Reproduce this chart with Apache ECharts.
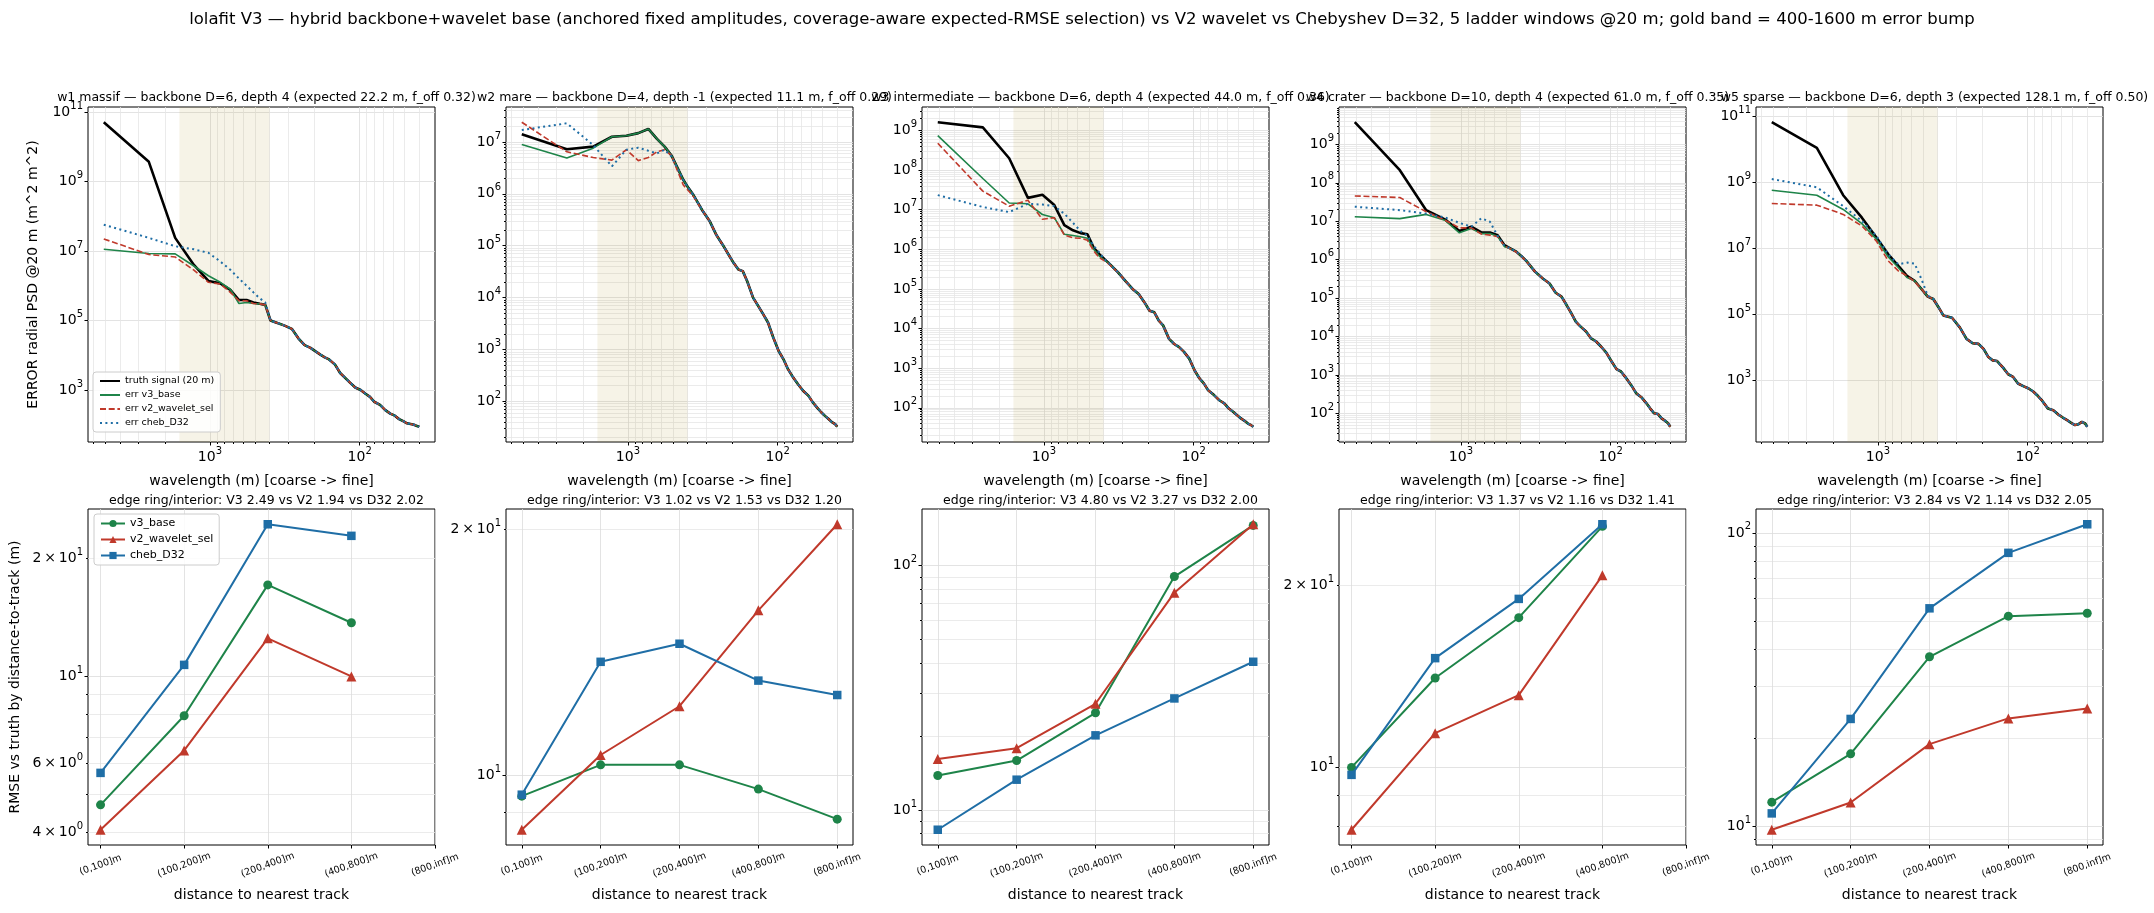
<!DOCTYPE html>
<html>
<head>
<meta charset="utf-8">
<title>lolafit V3 ladder windows</title>
<script src="https://cdn.jsdelivr.net/npm/echarts@6/dist/echarts.min.js"></script>
<style>
  html, body { margin: 0; padding: 0; background: #fff; }
  #main { width: 2154px; height: 913px; }
</style>
</head>
<body>
<div id="main"></div>
<script>
// radial PSD bins, wavelength in m (20 m grid)
const wavelengths = [5120, 2560, 1707, 1280, 1024, 853, 731, 640, 569, 512, 465, 427, 394, 366, 320, 284, 256,
  233, 213, 197, 183, 171, 160, 146, 135, 125, 116, 107, 98.5, 91.4, 85.3, 80, 73.1, 67.4, 62.4, 58.2, 54.5, 51.2, 48.3, 45.7, 43.4, 41.3, 40];
const goldBand = [400, 1600];

// log10 of radial PSD, coarse bins (first 17) per curve + shared fine tail (last 26)
const w1TruthLog = [10.71, 9.57, 7.38, 6.60, 6.14, 6.07, 5.88, 5.59, 5.59, 5.52, 5.48, 5.45, 5.00, 4.95, 4.86, 4.76, 4.48];
const w1V3Log    = [7.05, 6.93, 6.92, 6.57, 6.29, 6.10, 5.90, 5.49, 5.52, 5.49, 5.48, 5.45, 5.00, 4.95, 4.86, 4.76, 4.48];
const w1V2Log    = [7.35, 6.90, 6.83, 6.45, 6.10, 6.05, 5.81, 5.57, 5.57, 5.49, 5.48, 5.45, 5.00, 4.95, 4.86, 4.76, 4.48];
const w1ChebLog  = [7.76, 7.38, 7.14, 7.05, 6.95, 6.70, 6.46, 6.21, 6.00, 5.81, 5.64, 5.52, 5.00, 4.95, 4.86, 4.76, 4.48];
const w1TailLog  = [4.29, 4.21, 4.11, 4.02, 3.94, 3.88, 3.73, 3.49, 3.35, 3.21, 3.07, 3.00, 2.89, 2.80, 2.66, 2.57, 2.42, 2.32, 2.26, 2.16, 2.10, 2.04, 2.02, 2.00, 1.96, 1.94];

const w2TruthLog = [7.15, 6.86, 6.91, 7.10, 7.12, 7.17, 7.25, 7.06, 6.91, 6.74, 6.49, 6.27, 6.11, 5.98, 5.69, 5.47, 5.20];
const w2V3Log    = [6.95, 6.69, 6.88, 7.10, 7.12, 7.17, 7.25, 7.06, 6.91, 6.74, 6.49, 6.27, 6.11, 5.98, 5.69, 5.47, 5.20];
const w2V2Log    = [7.38, 6.81, 6.70, 6.65, 6.85, 6.64, 6.70, 6.81, 6.85, 6.74, 6.43, 6.17, 6.06, 5.95, 5.69, 5.47, 5.20];
const w2ChebLog  = [7.23, 7.36, 6.94, 6.53, 6.85, 6.89, 6.83, 6.78, 6.85, 6.72, 6.48, 6.27, 6.11, 5.98, 5.69, 5.47, 5.20];
const w2TailLog  = [5.02, 4.83, 4.67, 4.54, 4.51, 4.32, 4.00, 3.84, 3.68, 3.52, 3.23, 2.97, 2.81, 2.62, 2.49, 2.33, 2.20, 2.11, 1.98, 1.88, 1.79, 1.72, 1.66, 1.60, 1.56, 1.51];

const w3TruthLog = [9.21, 9.08, 8.30, 7.30, 7.38, 7.12, 6.61, 6.48, 6.41, 6.38, 6.04, 5.88, 5.75, 5.64, 5.42, 5.19, 5.00];
const w3V3Log    = [8.87, 7.79, 7.17, 7.15, 6.88, 6.80, 6.38, 6.35, 6.32, 6.28, 6.00, 5.83, 5.73, 5.64, 5.42, 5.19, 5.00];
const w3V2Log    = [8.68, 7.47, 7.09, 7.24, 6.76, 6.80, 6.36, 6.29, 6.28, 6.23, 5.96, 5.79, 5.71, 5.62, 5.42, 5.19, 5.00];
const w3ChebLog  = [7.37, 7.07, 6.94, 7.15, 7.13, 7.09, 6.90, 6.67, 6.46, 6.34, 6.09, 5.92, 5.75, 5.64, 5.42, 5.19, 5.00];
const w3TailLog  = [4.87, 4.66, 4.45, 4.41, 4.20, 4.08, 3.74, 3.61, 3.53, 3.41, 3.24, 2.94, 2.74, 2.61, 2.44, 2.32, 2.19, 2.11, 1.98, 1.90, 1.81, 1.73, 1.67, 1.60, 1.56, 1.52];

const w4TruthLog = [9.58, 8.33, 7.29, 7.05, 6.75, 6.86, 6.71, 6.71, 6.64, 6.38, 6.29, 6.21, 6.09, 5.97, 5.69, 5.51, 5.38];
const w4V3Log    = [7.12, 7.07, 7.18, 7.03, 6.70, 6.81, 6.68, 6.68, 6.61, 6.34, 6.29, 6.21, 6.09, 5.97, 5.69, 5.51, 5.38];
const w4V2Log    = [7.66, 7.62, 7.25, 7.03, 6.83, 6.83, 6.67, 6.64, 6.60, 6.36, 6.28, 6.20, 6.08, 5.96, 5.69, 5.51, 5.38];
const w4ChebLog  = [7.38, 7.29, 7.20, 7.10, 6.96, 6.86, 7.08, 6.99, 6.62, 6.36, 6.29, 6.21, 6.09, 5.97, 5.69, 5.51, 5.38];
const w4TailLog  = [5.14, 5.04, 4.82, 4.60, 4.39, 4.27, 4.13, 3.95, 3.87, 3.74, 3.58, 3.35, 3.15, 3.09, 2.95, 2.74, 2.52, 2.42, 2.28, 2.13, 2.00, 1.98, 1.87, 1.81, 1.74, 1.65];

const w5TruthLog = [10.81, 10.03, 8.60, 7.92, 7.32, 6.81, 6.46, 6.16, 6.01, 5.76, 5.53, 5.46, 5.21, 4.96, 4.89, 4.60, 4.25];
const w5V3Log    = [8.75, 8.60, 8.17, 7.74, 7.27, 6.73, 6.41, 6.11, 6.01, 5.76, 5.53, 5.46, 5.21, 4.96, 4.89, 4.60, 4.25];
const w5V2Log    = [8.35, 8.30, 8.02, 7.67, 7.21, 6.61, 6.31, 6.16, 5.99, 5.76, 5.53, 5.46, 5.21, 4.96, 4.89, 4.60, 4.25];
const w5ChebLog  = [9.09, 8.84, 8.27, 7.82, 7.37, 6.81, 6.51, 6.56, 6.53, 6.06, 5.56, 5.46, 5.21, 4.96, 4.89, 4.60, 4.25];
const w5TailLog  = [4.12, 4.10, 3.95, 3.70, 3.60, 3.58, 3.38, 3.18, 3.10, 2.90, 2.82, 2.75, 2.65, 2.52, 2.38, 2.14, 2.09, 1.96, 1.87, 1.79, 1.71, 1.64, 1.67, 1.74, 1.69, 1.59];

// RMSE (m) by distance to nearest track
const distanceBins = ['(0,100]m', '(100,200]m', '(200,400]m', '(400,800]m', '(800,inf]m'];
const w1RmseV3   = [4.71, 7.94, 17.1, 13.7, null];
const w1RmseV2   = [4.07, 6.48, 12.5, 10.0, null];
const w1RmseCheb = [5.68, 10.7, 24.4, 22.8, null];
const w2RmseV3   = [9.42, 10.29, 10.29, 9.61, 8.83];
const w2RmseV2   = [8.57, 10.58, 12.14, 15.91, 20.28];
const w2RmseCheb = [9.46, 13.76, 14.48, 13.05, 12.53];
const w3RmseV3   = [13.83, 15.93, 24.98, 90.2, 146];
const w3RmseV2   = [16.18, 17.89, 27.2, 77.5, 147.6];
const w3RmseCheb = [8.30, 13.3, 20.2, 28.6, 40.4];
const w4RmseV3   = [9.99, 14.04, 17.66, 25.0, null];
const w4RmseV2   = [7.88, 11.38, 13.15, 20.75, null];
const w4RmseCheb = [9.71, 15.14, 18.97, 25.2, null];
const w5RmseV3   = [12.07, 17.64, 37.8, 52.0, 53.2];
const w5RmseV2   = [9.72, 12.04, 19.03, 23.3, 25.2];
const w5RmseCheb = [11.05, 23.2, 55.3, 85.5, 107];

const topTitles = [
  'w1 massif \u2014 backbone D=6, depth 4 (expected 22.2 m, f_off 0.32)',
  'w2 mare \u2014 backbone D=4, depth -1 (expected 11.1 m, f_off 0.29)',
  'w3 intermediate \u2014 backbone D=6, depth 4 (expected 44.0 m, f_off 0.36)',
  'w4 crater \u2014 backbone D=10, depth 4 (expected 61.0 m, f_off 0.35)',
  'w5 sparse \u2014 backbone D=6, depth 3 (expected 128.1 m, f_off 0.50)'
];
const edgeRatios = [
  'edge ring/interior: V3 2.49 vs V2 1.94 vs D32 2.02',
  'edge ring/interior: V3 1.02 vs V2 1.53 vs D32 1.20',
  'edge ring/interior: V3 4.80 vs V2 3.27 vs D32 2.00',
  'edge ring/interior: V3 1.37 vs V2 1.16 vs D32 1.41',
  'edge ring/interior: V3 2.84 vs V2 1.14 vs D32 2.05'
];
const suptitle = 'lolafit V3 \u2014 hybrid backbone+wavelet base (anchored fixed amplitudes, coverage-aware expected-RMSE selection) vs V2 wavelet vs Chebyshev D=32, 5 ladder windows @20 m; gold band = 400-1600 m error bump';

const psd = [
  { truth: w1TruthLog, v3: w1V3Log, v2: w1V2Log, cheb: w1ChebLog, tail: w1TailLog },
  { truth: w2TruthLog, v3: w2V3Log, v2: w2V2Log, cheb: w2ChebLog, tail: w2TailLog },
  { truth: w3TruthLog, v3: w3V3Log, v2: w3V2Log, cheb: w3ChebLog, tail: w3TailLog },
  { truth: w4TruthLog, v3: w4V3Log, v2: w4V2Log, cheb: w4ChebLog, tail: w4TailLog },
  { truth: w5TruthLog, v3: w5V3Log, v2: w5V2Log, cheb: w5ChebLog, tail: w5TailLog }
];
const rmse = [
  { v3: w1RmseV3, v2: w1RmseV2, cheb: w1RmseCheb },
  { v3: w2RmseV3, v2: w2RmseV2, cheb: w2RmseCheb },
  { v3: w3RmseV3, v2: w3RmseV2, cheb: w3RmseCheb },
  { v3: w4RmseV3, v2: w4RmseV2, cheb: w4RmseCheb },
  { v3: w5RmseV3, v2: w5RmseV2, cheb: w5RmseCheb }
];

const FONT = 'DejaVu Sans';
const C_TRUTH = '#000000', C_V3 = '#1e8449', C_V2 = '#c0392b', C_CHEB = '#1f6ea6';
const GRID_LEFT = [88, 506, 922, 1339, 1756];
const PLOT_W = 347;
const TOP_Y = 107, TOP_H = 335, BOT_Y = 509, BOT_H = 336;
const LOG10 = Math.log10;

const RICH = {
  b: { fontSize: 14, lineHeight: 22, color: '#000', fontFamily: FONT },
  s: { fontSize: 10, lineHeight: 12, verticalAlign: 'top', color: '#000', fontFamily: FONT }
};

function logLabel(v) {
  const e = Math.floor(v + 1e-9);
  const m = Math.round(Math.pow(10, v - e));
  const base = m === 1 ? '10' : m + '\u2009\u00d7\u200910';
  return '{b|' + base + '}{s|' + e + '}';
}
function padded(vals) {
  const lo = Math.min.apply(null, vals), hi = Math.max.apply(null, vals), m = (hi - lo) * 0.05;
  return [lo - m, hi + m];
}
function decadesIn(lo, hi, step) {
  const out = [];
  for (let d = Math.floor(lo); d <= hi + 1e-9; d += step) if (d >= lo - 1e-9) out.push(d);
  return out;
}
function minorsIn(lo, hi) {
  const out = [];
  for (let d = Math.floor(lo); d <= Math.ceil(hi); d++) {
    for (let k = 2; k <= 9; k++) {
      const v = d + LOG10(k);
      if (v >= lo && v <= hi) out.push(v);
    }
  }
  return out;
}
function subLabels(lo, hi, majors, minors) {
  const span = hi - lo;
  if (span > 1) return majors;
  const keep = span > 0.4 ? [1, 2, 3, 4, 6] : [1, 2, 3, 4, 5, 6, 7, 8, 9];
  return majors.concat(minors).filter(function (v) {
    return keep.indexOf(Math.round(Math.pow(10, v - Math.floor(v + 1e-9)))) >= 0;
  });
}

const tickStyle = { color: '#000', width: 1 };
const noLine = { show: false, onZero: false };
const majorGrid = { show: true, lineStyle: { color: '#dcdcdc', width: 0.8 } };
const minorGrid = { show: true, lineStyle: { color: '#e6e6e6', width: 0.8 } };

function majorAxis(gridIndex, range, ticks, labels, extra) {
  return Object.assign({
    type: 'value', gridIndex: gridIndex, min: range[0], max: range[1], silent: true,
    axisLine: noLine,
    axisTick: { show: true, length: 3.5, customValues: ticks, lineStyle: tickStyle },
    axisLabel: { customValues: labels, formatter: logLabel, rich: RICH, color: '#000', margin: 5 },
    splitLine: majorGrid
  }, extra || {});
}
function minorAxis(gridIndex, range, ticks, extra) {
  const has = ticks.length > 0;
  return Object.assign({
    type: 'value', gridIndex: gridIndex, min: range[0], max: range[1], silent: true,
    axisLine: noLine,
    axisLabel: { show: false },
    axisTick: { show: has, length: 2, customValues: has ? ticks : [range[0]], lineStyle: tickStyle },
    splitLine: has ? minorGrid : { show: false }
  }, extra || {});
}

const grids = [], xAxes = [], yAxes = [], series = [], titles = [];

titles.push({ text: suptitle, left: 1077, top: 6, textAlign: 'center',
  textStyle: { fontSize: 16.5, fontWeight: 'normal', color: '#000', fontFamily: FONT } });

// top row: error PSD vs wavelength
const xLogMax = LOG10(wavelengths[0]), xLogMin = LOG10(wavelengths[wavelengths.length - 1]);
const xRange = padded([xLogMin, xLogMax]);
const xMajors = decadesIn(xRange[0], xRange[1], 1);
const xMinors = minorsIn(xRange[0], xRange[1]);

psd.forEach(function (p, i) {
  const g = i;
  grids.push({ left: GRID_LEFT[i], top: TOP_Y, width: PLOT_W, height: TOP_H,
    show: true, borderColor: '#000', borderWidth: 1, backgroundColor: 'transparent' });
  titles.push({ text: topTitles[i], left: GRID_LEFT[i] + PLOT_W / 2, top: 86, textAlign: 'center',
    textStyle: { fontSize: 12.5, fontWeight: 'normal', color: '#000', fontFamily: FONT } });

  const curves = {
    truth: p.truth.concat(p.tail), v3: p.v3.concat(p.tail),
    v2: p.v2.concat(p.tail), cheb: p.cheb.concat(p.tail)
  };
  const allY = [].concat(curves.truth, curves.v3, curves.v2, curves.cheb);
  const yRange = padded(allY);
  const numdec = Math.floor(yRange[1]) - Math.ceil(yRange[0]);
  const stride = Math.floor(numdec / 9) + 1;
  const yMajors = decadesIn(yRange[0], yRange[1], stride);
  const yMinors = stride === 1 ? minorsIn(yRange[0], yRange[1]) : [];

  xAxes.push(majorAxis(g, xRange, xMajors, xMajors, {
    inverse: true, position: 'bottom',
    axisLabel: { customValues: xMajors, formatter: logLabel, rich: RICH, color: '#000', margin: 4 },
    name: 'wavelength (m) [coarse -> fine]', nameLocation: 'middle', nameGap: 32,
    nameTextStyle: { fontSize: 14, color: '#000', fontFamily: FONT }
  }));
  xAxes.push(minorAxis(g, xRange, xMinors, { inverse: true, position: 'bottom' }));
  const yExtra = { position: 'left' };
  if (i === 0) {
    Object.assign(yExtra, { name: 'ERROR radial PSD @20 m (m^2 m^2)', nameLocation: 'middle', nameGap: 48,
      nameTextStyle: { fontSize: 14, color: '#000', fontFamily: FONT } });
  }
  yAxes.push(majorAxis(g, yRange, yMajors, yMajors, yExtra));
  yAxes.push(minorAxis(g, yRange, yMinors, { position: 'left' }));

  const mk = function (arr) { return wavelengths.map(function (w, j) { return [LOG10(w), arr[j]]; }); };
  const base = { type: 'line', xAxisIndex: 2 * g, yAxisIndex: 2 * g, symbol: 'none', animation: false, silent: true };
  series.push(Object.assign({}, base, {
    name: 'truth signal (20 m)', data: mk(curves.truth), z: 2,
    lineStyle: { color: C_TRUTH, width: 2.6 }, itemStyle: { color: C_TRUTH },
    markArea: { silent: true, itemStyle: { color: 'rgba(180,160,60,0.12)' },
      data: [[{ xAxis: LOG10(goldBand[1]) }, { xAxis: LOG10(goldBand[0]) }]] }
  }));
  series.push(Object.assign({}, base, {
    name: 'err v3_base', data: mk(curves.v3), z: 3,
    lineStyle: { color: C_V3, width: 1.6 }, itemStyle: { color: C_V3 }
  }));
  series.push(Object.assign({}, base, {
    name: 'err v2_wavelet_sel', data: mk(curves.v2), z: 4,
    lineStyle: { color: C_V2, width: 1.6, type: [6, 2.7] }, itemStyle: { color: C_V2 }
  }));
  series.push(Object.assign({}, base, {
    name: 'err cheb_D32', data: mk(curves.cheb), z: 5,
    lineStyle: { color: C_CHEB, width: 2, type: [2, 3.4] }, itemStyle: { color: C_CHEB }
  }));
});

// bottom row: RMSE by distance to nearest track
const binTicks = distanceBins.map(function (b, j) { return j; });
rmse.forEach(function (r, i) {
  const g = 5 + i;
  grids.push({ left: GRID_LEFT[i], top: BOT_Y, width: PLOT_W, height: BOT_H,
    show: true, borderColor: '#000', borderWidth: 1, backgroundColor: 'transparent' });
  titles.push({ text: edgeRatios[i], left: GRID_LEFT[i] + PLOT_W / 2, top: 489, textAlign: 'center',
    textStyle: { fontSize: 12.5, fontWeight: 'normal', color: '#000', fontFamily: FONT } });

  const vals = [].concat(r.v3, r.v2, r.cheb).filter(function (v) { return v != null; }).map(LOG10);
  const yRange = padded(vals);
  let last = 0;
  r.v3.forEach(function (v, j) { if (v != null) last = j; });
  const xRangeB = [-0.05 * last, Math.max(last * 1.05, distanceBins.length - 1)];
  const yMajors = decadesIn(yRange[0], yRange[1], 1);
  const yMinors = minorsIn(yRange[0], yRange[1]);
  const yLabels = subLabels(yRange[0], yRange[1], yMajors, yMinors);

  xAxes.push({
    type: 'value', gridIndex: g, min: xRangeB[0], max: xRangeB[1], silent: true, position: 'bottom',
    axisLine: noLine,
    axisTick: { show: true, length: 3.5, customValues: binTicks, lineStyle: tickStyle },
    axisLabel: { customValues: binTicks, formatter: function (v) { return distanceBins[Math.round(v)]; },
      rotate: 20, fontSize: 9.5, color: '#000', fontFamily: FONT, margin: 20, align: 'center', verticalAlign: 'middle' },
    splitLine: majorGrid,
    name: 'distance to nearest track', nameLocation: 'middle', nameGap: 43,
    nameTextStyle: { fontSize: 14, color: '#000', fontFamily: FONT }
  });
  xAxes.push(minorAxis(g, xRangeB, [], { position: 'bottom' }));
  const yExtra = { position: 'left' };
  if (i === 0) {
    Object.assign(yExtra, { name: 'RMSE vs truth by distance-to-track (m)', nameLocation: 'middle', nameGap: 66,
      nameTextStyle: { fontSize: 14, color: '#000', fontFamily: FONT } });
  }
  yAxes.push(majorAxis(g, yRange, yMajors, yLabels, yExtra));
  yAxes.push(minorAxis(g, yRange, yMinors, { position: 'left' }));

  const mk = function (arr) {
    const out = [];
    arr.forEach(function (v, j) { if (v != null) out.push([j, LOG10(v)]); });
    return out;
  };
  const base = { type: 'line', xAxisIndex: 2 * g, yAxisIndex: 2 * g, animation: false, silent: true, showSymbol: true };
  series.push(Object.assign({}, base, {
    name: 'v3_base', data: mk(r.v3), symbol: 'circle', symbolSize: 9, z: 3,
    lineStyle: { color: C_V3, width: 2 }, itemStyle: { color: C_V3 }
  }));
  series.push(Object.assign({}, base, {
    name: 'v2_wavelet_sel', data: mk(r.v2), symbol: 'triangle', symbolSize: 10, z: 4,
    lineStyle: { color: C_V2, width: 2 }, itemStyle: { color: C_V2 }
  }));
  series.push(Object.assign({}, base, {
    name: 'cheb_D32', data: mk(r.cheb), symbol: 'rect', symbolSize: 8.5, z: 5,
    lineStyle: { color: C_CHEB, width: 2 }, itemStyle: { color: C_CHEB }
  }));
});

const legendBox = { backgroundColor: 'rgba(255,255,255,0.85)', borderColor: '#cccccc', borderWidth: 1, borderRadius: 3 };
const option = {
  animation: false,
  backgroundColor: '#ffffff',
  textStyle: { fontFamily: FONT },
  title: titles,
  legend: [
    Object.assign({
      data: ['truth signal (20 m)', 'err v3_base', 'err v2_wavelet_sel', 'err cheb_D32'],
      orient: 'vertical', left: 93, top: 372, itemWidth: 20, itemHeight: 10, itemGap: 4,
      padding: [4, 6], selectedMode: false,
      itemStyle: { opacity: 0 },
      textStyle: { fontSize: 9.5, color: '#000', fontFamily: FONT }
    }, legendBox),
    Object.assign({
      data: ['v3_base', 'v2_wavelet_sel', 'cheb_D32'],
      orient: 'vertical', left: 94, top: 514, itemWidth: 24, itemHeight: 9, itemGap: 5,
      padding: [4, 6], selectedMode: false,
      textStyle: { fontSize: 11, color: '#000', fontFamily: FONT }
    }, legendBox)
  ],
  grid: grids,
  xAxis: xAxes,
  yAxis: yAxes,
  series: series
};

const chart = echarts.init(document.getElementById('main'));
chart.setOption(option);
</script>
</body>
</html>
